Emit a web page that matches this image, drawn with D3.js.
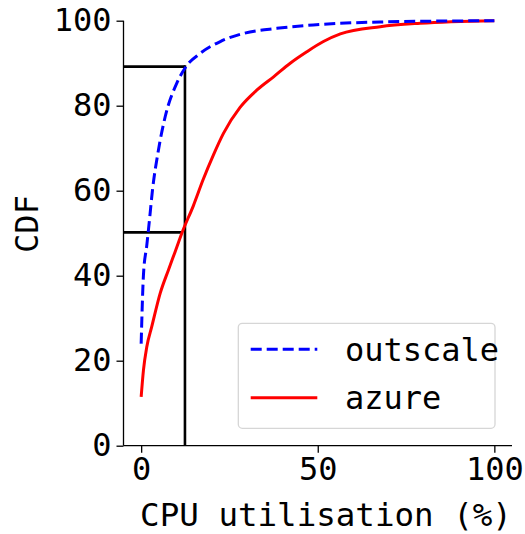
<html>
<head>
<script src="https://cdnjs.cloudflare.com/ajax/libs/d3/7.8.5/d3.min.js"></script>
<style>
  body { margin: 0; background: #fff; }
  text { font-family: "DejaVu Sans Mono", monospace; }
</style>
</head>
<body>
<svg id="plot" width="525" height="534"></svg>
<script>

	// CDF points (CPU %, CDF %)
	var outscaleX = [0, 0.65, 1.6, 2.35, 3.2, 4.9, 6.8, 10.1, 12.7, 16.7, 22.4, 29, 38.4, 48.7, 67.7, 100]
	var outscaleY = [24.0, 40.2, 47.2, 53.1, 60.1, 69.6, 77.4, 85.3, 89.2, 92.3, 95.1, 97.0, 98.2, 99.0, 99.7, 100]
	var azureX = [0, 0.65, 1.6, 3.0, 5.4, 7.7, 9.6, 11.7, 14.8, 17.5, 20.5, 23.3, 28, 32.8, 37.5, 42.2, 46.9, 51.6, 56.4, 67.7, 79, 100]
	var azureY = [11.5, 17.8, 23.3, 28.0, 35.9, 41.3, 45.6, 50.4, 56.5, 62.5, 68.5, 73.5, 79.6, 83.7, 86.8, 90.0, 92.7, 95.1, 96.9, 98.6, 99.4, 100]

	var seriesNames = ["outscale", "azure"]
	var xTicks = [0, 50, 100]
	var yTicks = [0, 20, 40, 60, 80, 100]

	// black guide lines
	var guideX = 12.4
	var guideLevels = [89.2, 50.2]
	var guideEnds = [12.4, 11.7]

	var margin = {left: 123.5, top: 20.7, right: 13, bottom: 88.3}
	var W = 525, H = 534
	var svg = d3.select("#plot")

	var x = d3.scaleLinear().domain([-5, 105]).range([margin.left, W - margin.right])
	var y = d3.scaleLinear().domain([0, 100]).range([H - margin.bottom, margin.top])

	var line = d3.line()
		.x(d => x(d[0]))
		.y(d => y(d[1]))
		.curve(d3.curveMonotoneX)

	// guide lines
	guideLevels.forEach((lv, i) => {
		svg.append("line")
		   .attr("x1", x(-5)).attr("x2", x(guideEnds[i]))
		   .attr("y1", y(lv)).attr("y2", y(lv))
		   .attr("stroke", "black").attr("stroke-width", 2.6)
	})
	svg.append("line")
	   .attr("x1", x(guideX)).attr("x2", x(guideX))
	   .attr("y1", y(0)).attr("y2", y(guideLevels[0]) - 1.3)
	   .attr("stroke", "black").attr("stroke-width", 2.6)

	var outscale = outscaleX.map((v, i) => [v, outscaleY[i]])
	var azure = azureX.map((v, i) => [v, azureY[i]])

	svg.append("path")
	   .attr("d", line(azure))
	   .attr("fill", "none").attr("stroke", "red").attr("stroke-width", 3)
	svg.append("path")
	   .attr("d", line(outscale))
	   .attr("fill", "none").attr("stroke", "blue").attr("stroke-width", 3)
	   .attr("stroke-dasharray", "11,5")

	// axes
	var xAxis = svg.append("g")
		.attr("transform", "translate(0," + y(0) + ")")
		.call(d3.axisBottom(x).tickValues(xTicks).tickSize(7).tickPadding(5))
	var yAxis = svg.append("g")
		.attr("transform", "translate(" + x(-5) + ",0)")
		.call(d3.axisLeft(y).tickValues(yTicks).tickSize(7).tickPadding(5))

	;[xAxis, yAxis].forEach(g => {
		g.select(".domain").attr("stroke-width", 1.3)
		g.selectAll(".tick line").attr("stroke-width", 1.3)
		g.selectAll(".tick text").attr("font-size", 32).attr("font-family", "DejaVu Sans Mono").attr("fill", "black")
	})
	xAxis.select(".domain").attr("d", "M" + x(-5) + ",0H" + x(105))
	yAxis.select(".domain").attr("d", "M0," + y(0) + "V" + y(100))

	svg.append("text")
	   .attr("x", 326).attr("y", 526)
	   .attr("text-anchor", "middle").attr("font-size", 32.5)
	   .text("CPU utilisation (%)")

	svg.append("text")
	   .attr("transform", "translate(38,224) rotate(-90)")
	   .attr("text-anchor", "middle").attr("font-size", 32)
	   .text("CDF")

	// legend
	var leg = svg.append("g")
	leg.append("rect")
	   .attr("x", 238.3).attr("y", 323.3).attr("width", 256.7).attr("height", 105)
	   .attr("rx", 4).attr("fill", "white").attr("fill-opacity", 0.8)
	   .attr("stroke", "#d6d6d6").attr("stroke-width", 1.3)
	var legStyles = [{color: "blue", dash: "11,5"}, {color: "red", dash: null}]
	seriesNames.forEach((name, i) => {
		var ly = 349.3 + i * 48.4
		leg.append("line")
		   .attr("x1", 250.7).attr("x2", 317.3).attr("y1", ly).attr("y2", ly)
		   .attr("stroke", legStyles[i].color).attr("stroke-width", 3)
		   .attr("stroke-dasharray", legStyles[i].dash)
		leg.append("text")
		   .attr("x", 345).attr("y", ly + 11.5)
		   .attr("font-size", 32)
		   .text(name)
	})

</script>
</body>
</html>
